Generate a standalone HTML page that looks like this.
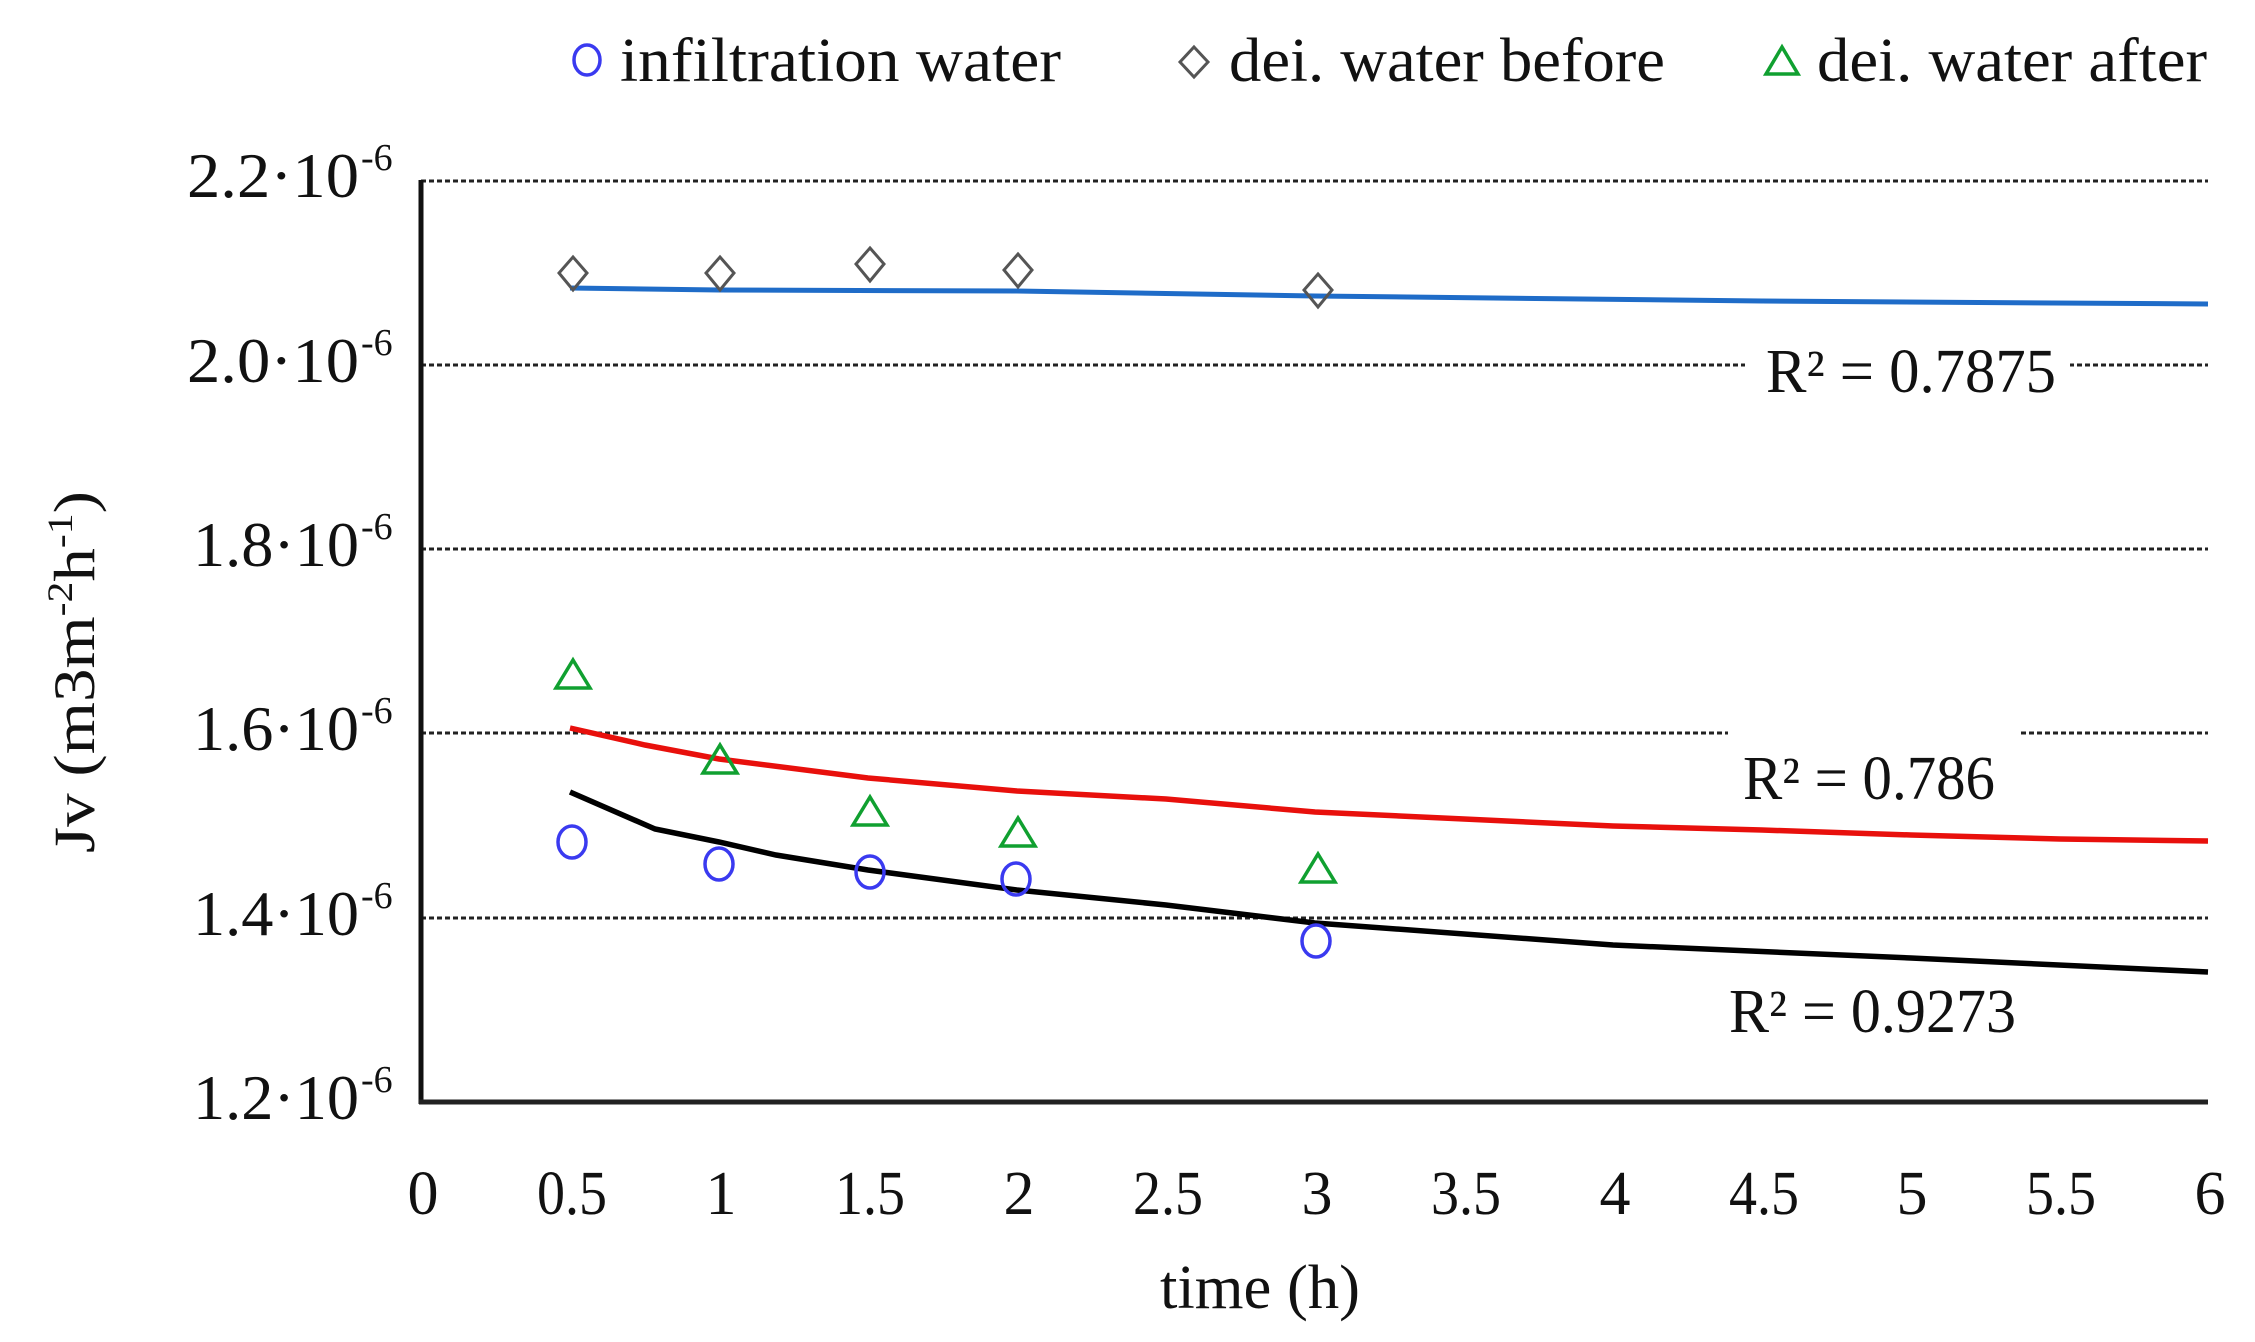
<!DOCTYPE html>
<html><head><meta charset="utf-8"><style>
html,body{margin:0;padding:0;background:#fff;}
svg{display:block;}
text{font-family:"Liberation Serif",serif;fill:#111;}
</style></head><body>
<svg width="2255" height="1342" viewBox="0 0 2255 1342" xmlns="http://www.w3.org/2000/svg">
<g stroke="#222" stroke-width="3" stroke-dasharray="5,3">
<line x1="421" y1="181" x2="2208" y2="181"/>
<line x1="421" y1="365" x2="2208" y2="365"/>
<line x1="421" y1="549" x2="2208" y2="549"/>
<line x1="421" y1="733" x2="2208" y2="733"/>
<line x1="421" y1="918" x2="2208" y2="918"/>
</g>
<line x1="421" y1="180" x2="421" y2="1104" stroke="#111" stroke-width="5"/>
<line x1="419" y1="1102" x2="2208" y2="1102" stroke="#222" stroke-width="5"/>
<rect x="1745" y="345" width="325" height="60" fill="#fff"/>
<rect x="1728" y="715" width="290" height="95" fill="#fff"/>
<polyline fill="none" stroke="#1f6cc8" stroke-width="5" points="570,288 719,290 1017,291 1315,296 1762,301 2208,304"/>
<polyline fill="none" stroke="#e8100c" stroke-width="5.5" points="570,728 645,745 719,759 868,778 1017,791 1166,799 1315,812 1464,819 1613,826 1762,830 1911,835 2060,839 2208,841"/>
<polyline fill="none" stroke="#000" stroke-width="5.5" points="570,792 655,829 719,842 776,855 868,870 1017,890 1166,905 1315,923 1613,945 1911,958 2208,972"/>
<g fill="none" stroke="#555" stroke-width="3">
<polygon points="573,257 587,273 573,290 559,273"/>
<polygon points="720,257 734,273 720,290 706,273"/>
<polygon points="870,248 884,264 870,281 856,264"/>
<polygon points="1018,254 1032,270 1018,287 1004,270"/>
<polygon points="1318,274 1332,290 1318,307 1304,290"/>
</g>
<g fill="none" stroke="#10a030" stroke-width="3.5">
<polygon points="573,660 590,688 556,688"/>
<polygon points="720,745 737,773 703,773"/>
<polygon points="870,797 887,825 853,825"/>
<polygon points="1018,818 1035,846 1001,846"/>
<polygon points="1318,854 1335,882 1301,882"/>
</g>
<g fill="none" stroke="#3a3af0" stroke-width="3.5">
<ellipse cx="572" cy="842" rx="14" ry="16"/>
<ellipse cx="719" cy="864" rx="14" ry="16"/>
<ellipse cx="870" cy="872" rx="14" ry="16"/>
<ellipse cx="1016" cy="879" rx="14" ry="16"/>
<ellipse cx="1316" cy="941" rx="14" ry="16"/>
</g>
<g font-size="62">
<text x="1766" y="392" textLength="290" lengthAdjust="spacingAndGlyphs">R² = 0.7875</text>
<text x="1743" y="799" textLength="252" lengthAdjust="spacingAndGlyphs">R² = 0.786</text>
<text x="1729" y="1032" textLength="287" lengthAdjust="spacingAndGlyphs">R² = 0.9273</text>
</g>
<g font-size="64">
<text x="187" y="197" textLength="172" lengthAdjust="spacingAndGlyphs">2.2·10</text><text x="361" y="170" font-size="38">-6</text>
<text x="187" y="382" textLength="172" lengthAdjust="spacingAndGlyphs">2.0·10</text><text x="361" y="355" font-size="38">-6</text>
<text x="193" y="566" textLength="166" lengthAdjust="spacingAndGlyphs">1.8·10</text><text x="361" y="539" font-size="38">-6</text>
<text x="193" y="750" textLength="166" lengthAdjust="spacingAndGlyphs">1.6·10</text><text x="361" y="723" font-size="38">-6</text>
<text x="193" y="935" textLength="166" lengthAdjust="spacingAndGlyphs">1.4·10</text><text x="361" y="908" font-size="38">-6</text>
<text x="193" y="1119" textLength="166" lengthAdjust="spacingAndGlyphs">1.2·10</text><text x="361" y="1092" font-size="38">-6</text>
</g>
<g font-size="62" text-anchor="middle">
<text x="423" y="1214">0</text>
<text x="572" y="1214" textLength="70" lengthAdjust="spacingAndGlyphs">0.5</text>
<text x="721" y="1214">1</text>
<text x="870" y="1214" textLength="70" lengthAdjust="spacingAndGlyphs">1.5</text>
<text x="1019" y="1214">2</text>
<text x="1168" y="1214" textLength="70" lengthAdjust="spacingAndGlyphs">2.5</text>
<text x="1317" y="1214">3</text>
<text x="1466" y="1214" textLength="70" lengthAdjust="spacingAndGlyphs">3.5</text>
<text x="1615" y="1214">4</text>
<text x="1764" y="1214" textLength="70" lengthAdjust="spacingAndGlyphs">4.5</text>
<text x="1912" y="1214">5</text>
<text x="2061" y="1214" textLength="70" lengthAdjust="spacingAndGlyphs">5.5</text>
<text x="2210" y="1214">6</text>
</g>
<text x="1260" y="1308" font-size="62" text-anchor="middle" textLength="200" lengthAdjust="spacingAndGlyphs">time (h)</text>
<text transform="translate(94,672) rotate(-90)" font-size="58" text-anchor="middle" textLength="362" lengthAdjust="spacingAndGlyphs">Jv (m3m<tspan font-size="36" dy="-22">-2</tspan><tspan dy="22">h</tspan><tspan font-size="36" dy="-22">-1</tspan><tspan dy="22">)</tspan></text>
<ellipse cx="587" cy="60" rx="13" ry="15" fill="none" stroke="#3a3af0" stroke-width="3.5"/>
<text x="620" y="81" font-size="62" textLength="441" lengthAdjust="spacingAndGlyphs">infiltration water</text>
<polygon points="1194,47 1208,62 1194,77 1180,62" fill="none" stroke="#555" stroke-width="3"/>
<text x="1229" y="81" font-size="62" textLength="436" lengthAdjust="spacingAndGlyphs">dei. water before</text>
<polygon points="1782,47 1798,74 1766,74" fill="none" stroke="#10a030" stroke-width="3.5"/>
<text x="1817" y="81" font-size="62" textLength="390" lengthAdjust="spacingAndGlyphs">dei. water after</text>
</svg>
</body></html>
